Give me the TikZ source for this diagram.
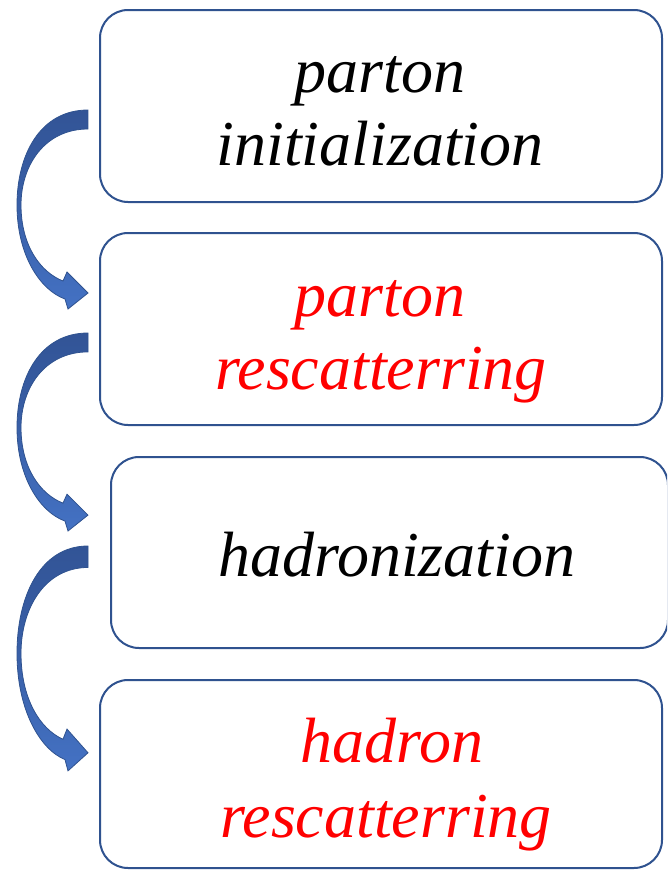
\documentclass[tikz,border=0pt]{standalone}
\usepackage{fontspec}
\setmainfont{Liberation Serif}
\definecolor{boxline}{RGB}{47,82,143}
\definecolor{arrdark}{RGB}{50,84,150}
\definecolor{arrlight}{RGB}{68,114,196}
\definecolor{txtred}{RGB}{255,0,0}
\begin{document}
\begin{tikzpicture}[x=1pt,y=-1pt,
  box/.style={draw=boxline, line width=2pt, rounded corners=28pt, fill=white},
  lbl/.style={font=\fontsize{64}{74}\selectfont\itshape, anchor=base, inner sep=0pt},
  curvarr/.style={draw=boxline, line width=0.8pt, top color=arrdark, bottom color=arrlight, middle color=arrdark!60!arrlight}]
\useasboundingbox (0,0) rectangle (667,870);
\clip (0,0) rectangle (667,870);
% boxes
\node[box, minimum width=562pt, minimum height=192pt] (b1) at (381,106) {};
\node[box, minimum width=562pt, minimum height=192pt] (b2) at (381,329) {};
\node[box, minimum width=557pt, minimum height=191pt] (b3) at (389.5,552.5) {};
\node[box, minimum width=562pt, minimum height=188pt] (b4) at (381,774) {};
% texts
\node[lbl, text=black] (t1a) at (380,92) {parton};
\node[lbl, text=black] (t1b) at (380,165) {initialization};
\node[lbl, text=txtred] (t2a) at (380,316) {parton};
\node[lbl, text=txtred] (t2b) at (381,389) {rescatterring};
\node[lbl, text=black] (t3a) at (397,576) {hadronization};
\node[lbl, text=txtred] (t4a) at (392,762) {hadron};
\node[lbl, text=txtred] (t4b) at (386,837) {rescatterring};
% curved arrows
\foreach \top/\sc in {110/1, 333/0.995, 546/1.13}{
  \begin{scope}[shift={(0,\top)}, yscale=\sc]
    \path[curvarr] (88,0) .. controls (40,0) and (17,45) .. (17,95)
      .. controls (17,145) and (40,180) .. (65,189)
      -- (68,199) -- (88,183) -- (67,162) -- (63,171)
      .. controls (40,162) and (21,135) .. (21,95)
      .. controls (21,55) and (45,19) .. (88,19) -- cycle;
  \end{scope}
}
\end{tikzpicture}
\end{document}
